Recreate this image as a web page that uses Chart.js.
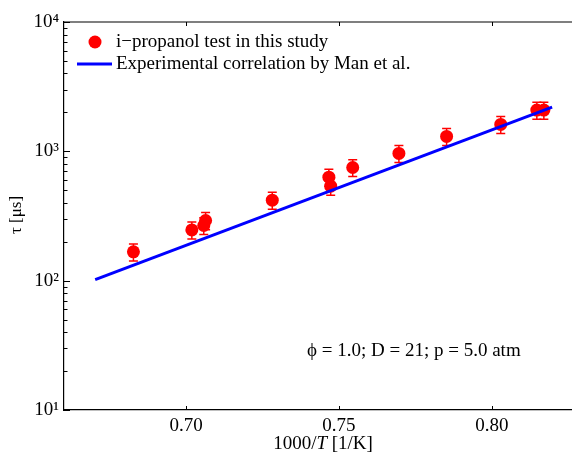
<!DOCTYPE html>
<html>
<head>
<meta charset="utf-8">
<script src="https://cdn.jsdelivr.net/npm/chart.js@4"></script>
<style>
  html, body { margin: 0; padding: 0; background: #fff; }
  #wrap { width: 572px; height: 453px; position: relative; }
</style>
</head>
<body>
<div id="wrap"><canvas id="tauChart"></canvas></div>
<script>
const inverseTemp = [0.6828, 0.7019, 0.7058, 0.7064, 0.7282, 0.7467, 0.7473, 0.7545, 0.7696, 0.7852, 0.8029, 0.8147, 0.8170];
const tauMeasured = [167, 247, 267, 292, 419, 631, 538, 750, 963, 1304, 1615, 2083, 2083];
const tauError = [25, 37, 40, 44, 63, 95, 81, 112, 144, 195, 242, 312, 312];

// Man et al. correlation, end points of the line
const correlationX = [0.6703, 0.8197];
const correlationTau = [102, 2198];

const xTicks = [0.70, 0.75, 0.80];
const xTickLabels = ["0.70", "0.75", "0.80"];
const yTicks = [10, 100, 1000, 10000];
const yTickLabels = ["10¹", "10²", "10³", "10⁴"];

const serif = "'Liberation Serif', 'Times New Roman', serif";

const decorations = {
  id: "decorations",
  beforeDatasetsDraw(chart) {
    const { ctx, scales: { x, y } } = chart;
    ctx.save();
    ctx.strokeStyle = "#ff0000";
    ctx.lineWidth = 1.5;
    inverseTemp.forEach((t, i) => {
      const px = x.getPixelForValue(t);
      const top = y.getPixelForValue(tauMeasured[i] + tauError[i]);
      const bot = y.getPixelForValue(tauMeasured[i] - tauError[i]);
      ctx.beginPath();
      ctx.moveTo(px, top); ctx.lineTo(px, bot);
      ctx.moveTo(px - 4.5, top); ctx.lineTo(px + 4.5, top);
      ctx.moveTo(px - 4.5, bot); ctx.lineTo(px + 4.5, bot);
      ctx.stroke();
    });
    ctx.restore();
  },
  afterDraw(chart) {
    const { ctx, chartArea: area, scales: { x, y } } = chart;
    ctx.save();
    ctx.strokeStyle = "#000";
    ctx.lineWidth = 1.2;

    // top frame line
    ctx.beginPath();
    ctx.moveTo(area.left, area.top);
    ctx.lineTo(area.right, area.top);
    ctx.stroke();

    // inward ticks
    ctx.lineWidth = 1;
    ctx.beginPath();
    xTicks.forEach(v => {
      const px = Math.round(x.getPixelForValue(v)) + 0.5;
      ctx.moveTo(px, area.bottom); ctx.lineTo(px, area.bottom - 4);
      ctx.moveTo(px, area.top); ctx.lineTo(px, area.top + 4);
    });
    yTicks.forEach(v => {
      const py = Math.round(y.getPixelForValue(v)) + 0.5;
      ctx.moveTo(area.left, py); ctx.lineTo(area.left + 6, py);
    });
    for (let d = 10; d < 10000; d *= 10) {
      for (let k = 2; k <= 9; k++) {
        const py = Math.round(y.getPixelForValue(k * d)) + 0.5;
        ctx.moveTo(area.left, py); ctx.lineTo(area.left + 3.5, py);
      }
    }
    ctx.stroke();

    // legend
    ctx.fillStyle = "#ff0000";
    ctx.beginPath();
    ctx.arc(95, 42, 6.5, 0, Math.PI * 2);
    ctx.fill();
    ctx.strokeStyle = "#0000ff";
    ctx.lineWidth = 3;
    ctx.beginPath();
    ctx.moveTo(77, 64); ctx.lineTo(112, 64);
    ctx.stroke();

    ctx.fillStyle = "#000";
    ctx.font = "19px " + serif;
    ctx.textBaseline = "middle";
    ctx.textAlign = "left";
    ctx.fillText("i\u2212propanol test in this study", 116, 42);
    ctx.fillText("Experimental correlation by Man et al.", 116, 64);

    // condition note
    ctx.fillText("\u03d5 = 1.0; D = 21; p = 5.0 atm", 307, 351);

    // x axis title with italic T
    const parts = [["1000/", ""], ["T", "italic "], [" [1/K]", ""]];
    let total = 0;
    parts.forEach(p => { ctx.font = p[1] + "19px " + serif; total += ctx.measureText(p[0]).width; });
    let cx = 323 - total / 2;
    parts.forEach(p => {
      ctx.font = p[1] + "19px " + serif;
      ctx.fillText(p[0], cx, 444);
      cx += ctx.measureText(p[0]).width;
    });

    // y axis title
    ctx.translate(17, 215);
    ctx.rotate(-Math.PI / 2);
    ctx.textAlign = "center";
    ctx.font = "17px " + serif;
    ctx.fillText("\u03c4 [\u03bcs]", 0, 0);
    ctx.restore();
  }
};

new Chart(document.getElementById("tauChart"), {
  type: "scatter",
  data: {
    datasets: [
      {
        label: "i\u2212propanol test in this study",
        data: inverseTemp.map((t, i) => ({ x: t, y: tauMeasured[i] })),
        backgroundColor: "#ff0000",
        borderWidth: 0,
        pointRadius: 6.5,
        order: 2
      },
      {
        label: "Experimental correlation by Man et al.",
        data: correlationX.map((t, i) => ({ x: t, y: correlationTau[i] })),
        showLine: true,
        borderColor: "#0000ff",
        borderWidth: 3,
        pointRadius: 0,
        order: 1
      }
    ]
  },
  options: {
    responsive: true,
    maintainAspectRatio: false,
    animation: false,
    layout: { autoPadding: false, padding: { top: 22, right: 0, bottom: 0, left: 0 } },
    plugins: {
      legend: { display: false },
      tooltip: { enabled: false }
    },
    scales: {
      x: {
        type: "linear",
        min: 0.6601,
        max: 0.8262,
        afterBuildTicks: (scale) => { scale.ticks = xTicks.map(v => ({ value: v })); },
        afterFit: (scale) => {
          scale.height = 43;
          scale.paddingLeft = 0;
          scale.paddingRight = 0;
        },
        grid: { display: false, drawTicks: false },
        border: { display: true, color: "#000", width: 1.2 },
        ticks: {
          color: "#000",
          padding: 5,
          font: { family: serif, size: 19 },
          callback: (value) => xTickLabels[xTicks.indexOf(value)] ?? ""
        }
      },
      y: {
        type: "logarithmic",
        min: 10,
        max: 10000,
        afterBuildTicks: (scale) => { scale.ticks = yTicks.map(v => ({ value: v })); },
        afterFit: (scale) => { scale.width = 64; },
        grid: { display: false, drawTicks: false },
        border: { display: true, color: "#000", width: 1.2 },
        ticks: {
          color: "#000",
          padding: 5,
          font: { family: serif, size: 19 },
          callback: (value) => yTickLabels[yTicks.indexOf(value)] ?? ""
        }
      }
    }
  },
  plugins: [decorations]
});
</script>
</body>
</html>
